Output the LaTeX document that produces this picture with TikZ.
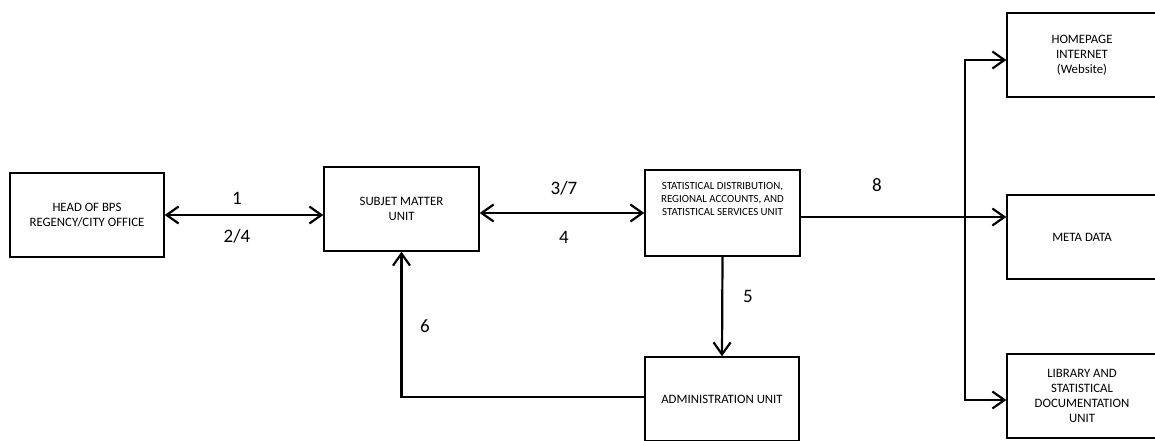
\documentclass[tikz,border=0pt]{standalone}
\usepackage{fontspec}
\setmainfont{Carlito}
\usetikzlibrary{arrows.meta}
\begin{document}
\begin{tikzpicture}[x=1pt,y=-1pt,
  box/.style={draw,line width=1.4pt,inner sep=0pt,align=center,
    font=\fontsize{12.8}{15.2}\selectfont,minimum height=84pt},
  stattext/.style={inner sep=0pt,align=center,font=\fontsize{10.9}{13.4}\selectfont},
  lbl/.style={inner sep=0pt,font=\fontsize{19}{22}\selectfont},
  tipb/.tip={Straight Barb[length=12pt,width=17pt]},
  arr/.style={line width=2.2pt,-tipb},
  arrb/.style={line width=2.2pt,tipb-tipb}]
\path[use as bounding box,clip] (0,0) rectangle (1155,440);
\node[box,minimum width=154pt] (head) at (87,215) {HEAD OF BPS\\REGENCY/CITY OFFICE};
\node[box,minimum width=155pt] (subj) at (401.5,209) {SUBJET MATTER\\UNIT};
\node[box,minimum width=155pt,minimum height=86pt] (stat) at (722.5,213) {};
\node[stattext,anchor=north] (statt) at ([yshift=-12.5pt]stat.north) {STATISTICAL DISTRIBUTION,\\REGIONAL ACCOUNTS, AND\\STATISTICAL SERVICES UNIT};
\node[box,minimum width=154pt] (admin) at (722,399) {ADMINISTRATION UNIT};
\node[box,minimum width=150pt] (home) at (1082,55) {HOMEPAGE\\INTERNET\\(Website)};
\node[box,minimum width=150pt] (meta) at (1082,237) {META DATA};
\node[box,minimum width=150pt] (lib) at (1082,396) {LIBRARY AND\\STATISTICAL\\DOCUMENTATION\\UNIT};
\node[lbl] (l1) at (237,198) {1};
\node[lbl] (l24) at (237,236) {2/4};
\node[lbl] (l37) at (564,188) {3/7};
\node[lbl] (l4) at (564,237) {4};
\node[lbl] (l5) at (748,296) {5};
\node[lbl] (l6) at (425,326) {6};
\node[lbl] (l8) at (877,185) {8};
\draw[arrb] (head.east) -- (head.east -| subj.west);
\draw[arrb] (subj.east |- stat.west) -- (stat.west);
\draw[arr] (stat.south) -- (admin.north);
\draw[arr] ([yshift=2pt]admin.west) -| (subj.south);
\coordinate (j8) at (965,217);
\coordinate (jt) at (965,60);
\coordinate (jb) at (965,400);
\draw[arr] (stat.east |- j8) -- (meta.west |- j8);
\draw[arrb] (jt -| home.west) -- (jt) -- (jb) -- (jb -| lib.west);
\end{tikzpicture}
\end{document}
